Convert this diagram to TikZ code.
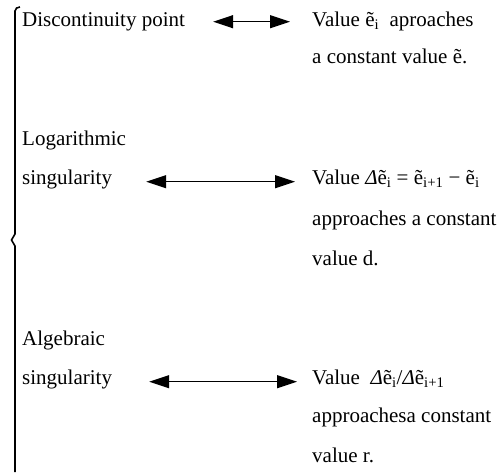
\documentclass[tikz,border=0pt]{standalone}
\usepackage{fontspec}
\setmainfont{Liberation Serif}
\usetikzlibrary{arrows.meta,positioning,calc}
\tikzset{
  txt/.style={anchor=base west, inner sep=0pt, font=\fontsize{21}{25}\selectfont},
  link/.style={{Triangle[length=20pt,width=13pt]}-{Triangle[length=20pt,width=13pt]}, line width=1.3pt},
  brace/.style={line width=1.6pt},
}
\newcommand{\etl}{ẽ}
\begin{document}
\begin{tikzpicture}[x=1pt,y=-1pt]
  \useasboundingbox (0,0) rectangle (503,472);
  % left side: kinds of singularity
  \node[txt] (disc) at (22,26) {Discontinuity point};
  \node[txt] (log) at (22,145) {Logarithmic};
  \node[txt] (sing1) at (22,184) {singularity};
  \node[txt] (alg) at (22,345) {Algebraic};
  \node[txt] (sing2) at (22,384) {singularity};

  % right side: behaviour of the values
  \node[txt] (v1a) at (312,26) {Value \etl\textsubscript{i}\ \ aproaches};
  \node[txt] (v1b) at (312,63) {a constant value \etl.};
  \node[txt] (v2a) at (312,184) {Value \textit{Δ}\etl\textsubscript{i} = \etl\textsubscript{i+1} − \etl\textsubscript{i}};
  \node[txt] (v2b) at (312,225) {approaches a constant};
  \node[txt] (v2c) at (312,265) {value d.};
  \node[txt] (v3a) at (312,384) {Value\ \ \textit{Δ}\etl\textsubscript{i}/\textit{Δ}\etl\textsubscript{i+1}};
  \node[txt] (v3b) at (312,422) {approachesa constant};
  \node[txt] (v3c) at (312,462) {value r.};

  % the brace
  \draw[brace] (20,7) to[out=180,in=90] (15,11) -- (15,234) -- (11.5,240) -- (15,246) -- (15,472);

  \draw[link] ($(disc.mid east)+(28,-2)$) -- ($(v1a.mid west)+(-22,-2)$);
  \draw[link] ($(sing1.mid east)+(34,0)$) -- ($(v2a.mid west)+(-17,0)$);
  \draw[link] ($(sing2.mid east)+(37,0)$) -- ($(v3a.mid west)+(-15,0)$);
\end{tikzpicture}
\end{document}
